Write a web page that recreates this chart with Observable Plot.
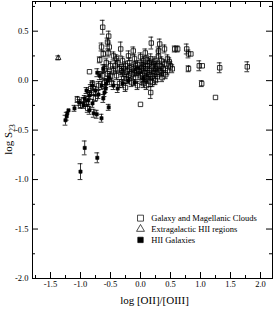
<!DOCTYPE html>
<html>
<head>
<meta charset="utf-8">
<script src="https://cdn.jsdelivr.net/npm/d3@7"></script>
<script src="https://cdn.jsdelivr.net/npm/@observablehq/plot@0.6"></script>
<style>
  html, body { margin: 0; padding: 0; background: white; }
  svg { display: block; }
</style>
</head>
<body>
<div id="chart"></div>
<script>
// ---- data (x = log [OII]/[OIII], y = log S23, e = error) ----
const galaxyX = [-0.63,-0.53,-0.55,-0.65,-0.52,-0.62,-0.54,-0.68,-0.57,-0.60,-0.50,-0.85,-0.64,-0.55,-0.83,-0.80,-0.85,-1.05,-0.95,-1.00,-0.78,-0.70,-0.75,-0.90,-0.88,-0.60,
  -0.33,-0.45,-0.40,-0.42,-0.35,-0.30,-0.28,-0.25,-0.22,-0.20,-0.18,-0.15,-0.12,-0.10,-0.08,-0.05,-0.03,0.00,0.02,0.05,0.07,0.10,0.12,0.15,0.17,0.20,0.22,0.25,0.27,0.30,0.32,0.35,0.38,0.40,0.45,
  0.18,0.32,0.30,0.57,0.62,0.77,0.80,0.84,0.80,0.98,1.03,1.02,1.25,1.32,1.78,0.00,0.17,0.10,0.05,-0.05,-0.25,-0.35,-0.48,-0.30,-0.40,-0.20,-0.10,0.00,0.08,0.12,0.20,0.25,-0.45,-0.50,-0.15,-0.08,0.05,0.15,0.22,-0.28,-0.38,0.35,0.45,0.50,-0.12,0.40,
  -0.02,0.04,0.09,0.14,0.19,0.24,0.28,0.33,0.42,0.48,0.53,-0.18,-0.23,-0.32,0.11,0.16,0.03,-0.06,0.27,0.36];
const galaxyY = [0.54,0.45,0.39,0.34,0.34,0.27,0.28,0.21,0.18,0.12,0.15,0.09,0.05,0.07,-0.08,-0.03,-0.13,-0.19,-0.20,-0.25,-0.12,-0.05,-0.18,-0.23,-0.28,-0.02,
  0.32,0.10,0.05,0.15,0.12,0.08,0.02,0.15,0.10,0.05,0.18,-0.02,0.12,0.08,0.03,0.16,0.10,0.05,0.13,0.20,0.08,0.03,0.15,0.10,0.22,0.05,0.17,0.12,0.08,0.25,0.15,0.20,0.12,0.17,0.10,
  0.38,0.37,0.30,0.32,0.32,0.32,0.27,0.27,0.12,0.15,0.15,-0.03,-0.17,0.13,0.14,-0.24,-0.12,-0.05,-0.03,-0.05,-0.07,-0.03,-0.02,0.20,0.22,0.25,0.22,0.24,0.28,0.02,-0.02,0.00,0.25,0.05,0.07,0.15,0.12,0.18,0.08,0.12,0.18,0.08,0.22,0.15,0.30,0.32,
  0.09,0.16,0.12,0.06,0.14,0.20,0.04,0.10,0.06,0.19,0.12,0.13,0.02,0.10,0.21,-0.01,0.00,0.11,0.15,0.03];
const galaxyE = [0.07,0.05,0.04,0.04,0.04,0.03,0.04,0.03,0.04,0.04,0.04,0,0.04,0.05,0.04,0.03,0.03,0.03,0.03,0.03,0.03,0.04,0.03,0.03,0.04,0.04,
  0.07,0.04,0.04,0.05,0.04,0.04,0.05,0.04,0.04,0.04,0.05,0.04,0.04,0.04,0.05,0.04,0.04,0.04,0.05,0.04,0.04,0.04,0.05,0.04,0.05,0.04,0.04,0.05,0.04,0.05,0.04,0.04,0.04,0.04,0.04,
  0.06,0.05,0.04,0.03,0.03,0.05,0.04,0,0.03,0.05,0,0.03,0,0.05,0.05,0,0.06,0.04,0.04,0.04,0.04,0.04,0.04,0.04,0.04,0.05,0.04,0.04,0.04,0.04,0.04,0.04,0.04,0.04,0.04,0.04,0.04,0.04,0.04,0.04,0.04,0.04,0.04,0.04,0.04,0.04,
  0.04,0.04,0.05,0.04,0.04,0.04,0.05,0.04,0.04,0.04,0.04,0.04,0.04,0.04,0.04,0.05,0.04,0.04,0.04,0.04];

const hiiRegionX = [-1.37];
const hiiRegionY = [0.23];
const hiiRegionE = [0.02];

const hiiGalaxyX = [-1.00,-0.72,-0.93,-1.25,-1.23,-1.22,-1.20,-1.10,-1.02,-0.95,-0.93,-0.87,-0.85,-0.80,-0.78,-0.73,-0.65,-0.53,-0.75,-0.70,-0.62,-0.60,-0.58,-0.57,-0.55,-0.52,-0.65,-0.72,-0.68,-0.62,-0.85,-0.90,-0.45,-0.38,-0.30,-0.20,-0.10,0.05,-0.80];
const hiiGalaxyY = [-0.92,-0.78,-0.68,-0.40,-0.36,-0.33,-0.30,-0.28,-0.22,-0.25,-0.18,-0.20,-0.30,-0.23,-0.33,-0.34,-0.38,-0.27,-0.10,-0.14,-0.18,-0.12,-0.08,-0.03,0.00,0.03,-0.05,0.08,0.05,0.12,-0.15,-0.10,-0.05,-0.08,-0.03,0.00,-0.02,0.02,-0.05];
const hiiGalaxyE = [0.08,0.05,0.07,0.05,0.04,0,0,0.03,0.03,0.03,0.03,0.04,0.04,0.04,0.04,0.04,0.04,0.03,0.04,0.04,0.04,0.04,0.04,0.04,0.04,0.04,0.04,0.04,0.04,0.04,0.03,0.03,0.04,0.04,0.04,0.03,0.03,0.03,0.03];

const xMajor = [-1.5,-1.0,-0.5,0.0,0.5,1.0,1.5,2.0];
const xMinor = [-1.75,-1.25,-0.75,-0.25,0.25,0.75,1.25,1.75];
const yMajor = [-2.0,-1.5,-1.0,-0.5,0.0,0.5];
const yMinor = [-1.75,-1.25,-0.75,-0.25,0.25,0.75];

const legendLabels = ["Galaxy and Magellanic Clouds","Extragalactic HII regions","HII Galaxies"];
const legendSymbols = ["square","triangle","square"];
const legendFills = ["none","none","black"];
const xTitle = "log [OII]/[OIII]";

// ---- build tables ----
const zip = (X, Y, E) => X.map((x, i) => ({x, y: Y[i], e: E[i]}));
const galaxies = zip(galaxyX, galaxyY, galaxyE);
const regions = zip(hiiRegionX, hiiRegionY, hiiRegionE);
const hiigal = zip(hiiGalaxyX, hiiGalaxyY, hiiGalaxyE);
const all = [...galaxies, ...regions, ...hiigal].filter(d => d.e > 0);

const W = 273, H = 316, mL = 32, mR = 1, mT = 1, mB = 38;
const pw = W - mL - mR, ph = H - mT - mB;
const capHalf = 0.04;
const fmt = d => d.toFixed(1);

const legend = legendLabels.map((label, i) => ({label, symbol: legendSymbols[i], fill: legendFills[i], i}));
const legX = 0.0, legY0 = -1.39, legStep = 0.11;

const chart = Plot.plot({
  width: W, height: H,
  marginLeft: mL, marginRight: mR, marginTop: mT, marginBottom: mB,
  x: {domain: [-1.8, 2.2]},
  y: {domain: [-2.0, 0.8]},
  style: {fontFamily: "Liberation Serif", fontSize: "8.5px", background: "white", color: "black"},
  marks: [
    Plot.axisX(xMajor, {tickSize: 0, tickPadding: 2, tickFormat: fmt, label: null}),
    Plot.axisY(yMajor, {tickSize: 0, tickPadding: 4, tickFormat: fmt, label: null}),
    // inward ticks on all four sides
    Plot.tickX(xMajor, {x: d => d, insetTop: ph - 6, stroke: "black"}),
    Plot.tickX(xMajor, {x: d => d, insetBottom: ph - 6, stroke: "black"}),
    Plot.tickX(xMinor, {x: d => d, insetTop: ph - 3, stroke: "black"}),
    Plot.tickX(xMinor, {x: d => d, insetBottom: ph - 3, stroke: "black"}),
    Plot.tickY(yMajor, {y: d => d, insetRight: pw - 6, stroke: "black"}),
    Plot.tickY(yMajor, {y: d => d, insetLeft: pw - 6, stroke: "black"}),
    Plot.tickY(yMinor, {y: d => d, insetRight: pw - 3, stroke: "black"}),
    Plot.tickY(yMinor, {y: d => d, insetLeft: pw - 3, stroke: "black"}),
    // error bars
    Plot.ruleX(all, {x: "x", y1: d => d.y - d.e, y2: d => d.y + d.e, stroke: "black", strokeWidth: 0.8}),
    Plot.ruleY(all, {y: d => d.y - d.e, x1: d => d.x - capHalf, x2: d => d.x + capHalf, stroke: "black", strokeWidth: 0.8}),
    Plot.ruleY(all, {y: d => d.y + d.e, x1: d => d.x - capHalf, x2: d => d.x + capHalf, stroke: "black", strokeWidth: 0.8}),
    // points
    Plot.dot(galaxies, {x: "x", y: "y", symbol: "square", r: 2.5, stroke: "black", fill: "none", strokeWidth: 0.8}),
    Plot.dot(regions, {x: "x", y: "y", symbol: "triangle", r: 2.0, stroke: "black", fill: "none", strokeWidth: 0.8}),
    Plot.dot(hiigal, {x: "x", y: "y", symbol: "square", r: 1.8, stroke: "black", fill: "black", strokeWidth: 0.6}),
    // legend
    Plot.dot(legend, {x: () => legX, y: d => legY0 - d.i * legStep, symbol: "symbol", fill: "fill", stroke: "black", strokeWidth: 0.7, r: d => d.i === 2 ? 1.4 : d.i === 1 ? 1.3 : 1.7}),
    Plot.text(legend, {x: () => legX + 0.18, y: d => legY0 - d.i * legStep, text: "label", textAnchor: "start", fontSize: 8.5, fill: "black"}),
    // x title
    Plot.text([xTitle], {frameAnchor: "bottom", dy: 25, dx: 2, fontSize: 11, fill: "black"}),
    Plot.frame({stroke: "black", strokeWidth: 1})
  ]
});

// y title with subscript
const svg = d3.select(chart);
const yt = svg.append("text")
  .attr("transform", `translate(12,${mT + ph / 2}) rotate(-90)`)
  .attr("text-anchor", "middle")
  .attr("font-family", "Liberation Serif")
  .attr("font-size", 11)
  .attr("fill", "black");
yt.append("tspan").text("log S");
yt.append("tspan").attr("font-size", 7.5).attr("dy", 2.5).text("23");

document.getElementById("chart").appendChild(chart);
</script>
</body>
</html>
